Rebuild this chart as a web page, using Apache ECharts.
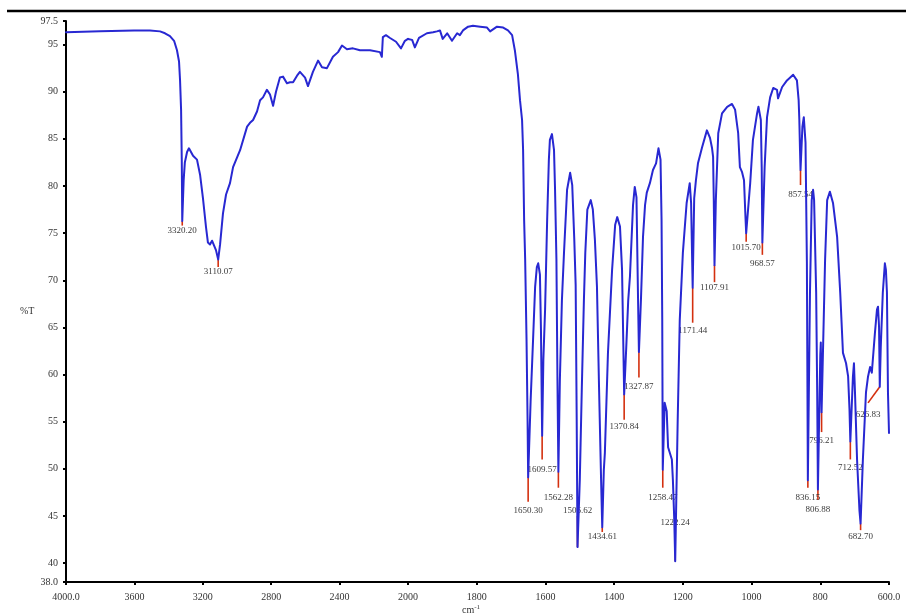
<!DOCTYPE html>
<html>
<head>
<meta charset="utf-8">
<script src="https://cdn.jsdelivr.net/npm/echarts@6/dist/echarts.min.js"></script>
<style>
html,body{margin:0;padding:0;background:#fff;}
#chart{width:906px;height:614px;}
</style>
</head>
<body>
<div id="chart"></div>
<script>
// ---------- DATA ----------
const wavenumbers = [
 4000,3801,3602,3509,3450,3421,3392,3368,3351,3339,3333,3327,3323,3320.2,3312,3305,3292,3281,3269,3257,3246,3234,3216,3199,3181,3170,3158,3146,3135,3123,3110.07,3099,3082,3064,3041,3023,2982,2941,2924,2906,2883,2865,2848,2825,2807,2789,2772,2749,2731,2708,2690,2672,2649,2632,2602,2585,2556,2526,2503,2474,2439,2409,2386,2357,2322,2281,2222,2164,2153,2147,2129,2105,2070,2041,2018,2000,
 1988,1980,1968,1945,1927,1916,1907,1899,1886,1872,1857,1849,1840,1825,1811,1790,1770,1761,1741,1723,1709,1697,1689,1680,1674,1668,1665,1662,1659,1655,1652,1650.3,1643,1636,1630,1625,1621,1616,1613,1609.57,1606,1601,1595,1590,1587,1581,1575,1572,1568,1565,1562.28,1558,1552,1546,1537,1528,1522,1516,1512,1509,1506.62,1500,1494,1488,1484,1478,1468,1462,1456,1450,1444,1438,1434.61,1430,1427,1418,1406,1397,1391,1383,1377,1374,1370.84,1365,1359,1354,1345,1340,1335,1331,1327.87,1322,1316,1310,1305,1296,1287,1278,1271,1265,1262,1260,1258.47,1253,1247,1243,1238,1232,1229,1225,1222.24,1215,1209,1200,1189,1180,1176,1171.44,1167,1162,1156,1144,1130,1121,1115,1112,1110,1107.91,1104,1097,1086,1071,1057,1048,1039,1034,1028,1022,1018,1015.7,1008,1004,996,984,980,973,970.5,968.57,962,955,946,937,926,923,911,897,879,868,863,861,859,857.54,852,848,843,839,836.15,830,825,821,818,812,809,806.88,802,800,798.5,796.21,786,780,772,763,751,742,734,725,719,715,712.52,705,702,699,693,686,682.7,676,667,661,655,650,647,641,635,632,629,626.83,624,618,612,609,606,603,600
];
const transmittance = [
 96.3,96.4,96.5,96.5,96.4,96.2,95.9,95.4,94.4,93.2,91.2,88.1,82.8,76.3,80.6,82.5,83.6,84.0,83.6,83.2,83.4,82.8,81.2,78.7,75.6,74.0,73.8,74.2,74.1,73.2,72.2,73.8,77.1,79.1,80.3,82.0,83.8,86.3,86.7,87.0,87.9,89.1,89.4,90.2,89.7,88.5,90.0,91.5,91.6,90.9,91.0,91.0,91.7,92.1,91.5,90.6,92.1,93.3,92.6,92.5,93.7,94.2,94.9,94.5,94.6,94.4,94.4,94.2,93.7,95.8,96.0,95.7,95.3,94.6,95.4,95.6,
 95.5,94.7,95.7,96.2,96.3,96.4,96.5,95.6,96.2,95.4,96.2,96.0,96.5,96.9,97.0,96.9,96.8,96.4,96.9,96.8,96.5,96.0,94.4,91.8,89.1,87.0,83.8,76.4,72.2,63.7,55.2,49.1,57.3,63.7,69.3,71.4,71.8,70.6,64.7,53.5,61.6,66.9,76.4,82.8,84.9,85.5,83.8,79.6,72.2,59.4,49.7,59.4,67.9,72.9,79.6,81.4,80.1,74.3,69.5,55.2,41.7,48.8,58.7,67.9,72.9,77.5,78.5,77.5,74.3,69.3,58.7,48.8,43.8,49.9,51.7,62.3,71.1,75.9,76.7,75.7,71.1,64.7,57.9,62.7,67.9,70.4,78.0,79.9,78.8,69.3,62.4,67.9,74.6,78.0,79.3,80.3,81.7,82.4,84.0,82.8,76.4,65.8,49.9,57.0,56.1,52.3,51.7,51.0,48.8,44.6,40.2,55.2,65.8,72.9,78.2,80.3,78.2,69.2,78.7,80.6,82.4,84.1,85.9,85.1,84.0,83.1,78.5,71.6,78.5,85.6,87.7,88.4,88.7,88.1,85.6,82.0,81.5,80.6,76.9,75.0,78.5,80.3,84.9,87.7,88.4,87.0,82.0,74.0,82.0,87.3,89.4,90.4,90.2,89.3,90.5,91.2,91.8,91.2,89.1,87.0,83.8,81.7,86.3,87.3,84.6,72.0,48.8,68.7,78.5,79.6,78.5,68.7,58.1,47.8,58.1,62.1,63.4,56.0,72.2,78.5,79.4,78.2,74.6,68.7,62.3,61.2,59.8,56.3,52.9,59.8,61.2,58.1,51.0,45.6,44.2,51.0,58.1,59.8,60.8,60.2,61.6,64.4,66.9,67.2,65.1,58.7,62.9,68.7,71.8,71.1,68.7,58.1,53.8
];

// peak annotations
const peakLabels  = ['3320.20','3110.07','1650.30','1609.57','1562.28','1506.62','1434.61','1370.84','1327.87','1258.47','1222.24','1171.44','1107.91','1015.70','968.57','857.54','836.15','806.88','796.21','712.52','682.70','626.83'];
const peakTipT    = [76.3,72.2,49.1,53.5,49.7,41.7,43.8,57.9,62.4,49.9,40.2,69.2,71.6,75.0,74.0,81.7,48.8,47.8,56.0,52.9,44.2,58.7];
const peakLineEndT= [75.8,71.4,46.5,51.0,48.0,45.0,43.3,55.2,59.7,48.0,43.5,65.5,69.8,74.1,72.7,80.1,48.0,46.7,53.9,51.0,43.5,57.0];
const peakLabelT  = [75.3,70.9,45.6,49.9,47.0,45.6,42.8,54.5,58.7,47.0,44.3,64.7,69.2,73.5,71.8,79.1,47.0,45.7,53.0,50.1,42.8,55.7];
const peakLineEndWn = [3320.2,3110.07,1650.3,1609.57,1562.28,1506.62,1434.61,1370.84,1327.87,1258.47,1222.24,1171.44,1107.91,1015.7,968.57,857.54,836.15,806.88,796.21,712.52,682.7,661];

const xTicksHigh = [4000,3600,3200,2800,2400];
const xTickTextHigh = ['4000.0','3600','3200','2800','2400'];
const xTicksLow = [2000,1800,1600,1400,1200,1000,800,600];
const xTickTextLow = ['2000','1800','1600','1400','1200','1000','800','600.0'];
const yTicks = [38,40,45,50,55,60,65,70,75,80,85,90,95,97.5];
const yTickText = ['38.0','40','45','50','55','60','65','70','75','80','85','90','95','97.5'];

// ---------- BUILD ----------
const highPts = [], lowPts = [];
wavenumbers.forEach((w,i)=>{
  if (w >= 2000) highPts.push([w, transmittance[i]]);
  if (w <= 2000) lowPts.push([w, transmittance[i]]);
});
const peakHigh = [], peakLow = [];
peakLabels.forEach((s,i)=>{
  const w = parseFloat(s);
  const row = [w, peakTipT[i], peakLineEndWn[i], peakLineEndT[i], peakLabelT[i], i];
  (w >= 2000 ? peakHigh : peakLow).push(row);
});

const FONT = 'Liberation Serif';
const TXT = '#333';
function axisX(grid, min, max, ticks, texts){
  return {
    gridIndex: grid, type:'value', min:min, max:max, inverse:true,
    axisLine:{show:true, onZero:false, lineStyle:{color:'#000', width:2}},
    axisTick:{show:true, customValues:ticks, length:3, lineStyle:{color:'#000', width:2}},
    axisLabel:{show:true, customValues:ticks, margin:10, fontFamily:FONT, fontSize:10, color:TXT,
      formatter:(v)=>{ const k = ticks.indexOf(v); return k>=0 ? texts[k] : ''; }},
    splitLine:{show:false}
  };
}
function renderPeak(params, api){
  const tip = api.coord([api.value(0), api.value(1)]);
  const end = api.coord([api.value(2), api.value(3)]);
  const lab = api.coord([api.value(2), api.value(4)]);
  const idx = api.value(5);
  return {type:'group', children:[
    {type:'line', shape:{x1:tip[0], y1:tip[1], x2:end[0], y2:end[1]},
     style:{stroke:'#d4300f', lineWidth:1.6}, z2:1},
    {type:'text', x:lab[0], y:lab[1],
     style:{text:peakLabels[idx], align:'center', verticalAlign:'middle',
            font:'9px "Liberation Serif"', fill:'#3a3a3a'}, z2:5}
  ]};
}
const lineStyle = {color:'#2828d2', width:2, join:'round', cap:'round'};

const chart = echarts.init(document.getElementById('chart'), null, {renderer:'canvas'});
chart.setOption({
  animation:false,
  backgroundColor:'#ffffff',
  grid:[{left:66, right:498, top:21, bottom:32}, {left:408, right:17, top:21, bottom:32}],
  xAxis:[axisX(0,2000,4000,xTicksHigh,xTickTextHigh), axisX(1,600,2000,xTicksLow,xTickTextLow)],
  yAxis:[
    {gridIndex:0, type:'value', min:38, max:97.5,
     axisLine:{show:true, onZero:false, lineStyle:{color:'#000', width:2}},
     axisTick:{show:true, customValues:yTicks, length:3, lineStyle:{color:'#000', width:2}},
     axisLabel:{show:true, customValues:yTicks, margin:8, fontFamily:FONT, fontSize:10, color:TXT,
       formatter:(v)=>{ const k = yTicks.indexOf(v); return k>=0 ? yTickText[k] : ''; }},
     splitLine:{show:false}},
    {gridIndex:1, type:'value', min:38, max:97.5, show:false, splitLine:{show:false}}
  ],
  series:[
    {type:'custom', xAxisIndex:0, yAxisIndex:0, data:peakHigh, renderItem:renderPeak, clip:false, z:1,
     encode:{x:[0,2], y:[1,3,4]}},
    {type:'custom', xAxisIndex:1, yAxisIndex:1, data:peakLow, renderItem:renderPeak, clip:false, z:1,
     encode:{x:[0,2], y:[1,3,4]}},
    {type:'line', xAxisIndex:0, yAxisIndex:0, data:highPts, showSymbol:false, symbol:'none',
     smooth:false, lineStyle:lineStyle, z:3},
    {type:'line', xAxisIndex:1, yAxisIndex:1, data:lowPts, showSymbol:false, symbol:'none',
     smooth:false, lineStyle:lineStyle, z:3}
  ],
  graphic:[
    {type:'line', shape:{x1:7, y1:11, x2:906, y2:11}, style:{stroke:'#000', lineWidth:2.5}},
    {type:'text', left:20, top:306, style:{text:'%T', font:'10px "Liberation Serif"', fill:TXT}},
    {type:'text', left:462, top:604, style:{text:'cm{s|-1}', font:'10px "Liberation Serif"', fill:TXT,
      rich:{s:{fontSize:7, verticalAlign:'top', fontFamily:FONT, fill:TXT, padding:[0,0,6,0]}}}}
  ]
});
</script>
</body>
</html>
